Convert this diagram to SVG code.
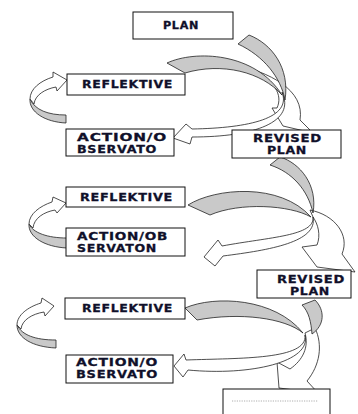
<svg xmlns="http://www.w3.org/2000/svg" width="358" height="414" viewBox="0 0 358 414">
<style>
.box{fill:#fff;stroke:#111;stroke-width:1}
.t{font-family:"DejaVu Sans","Liberation Sans",sans-serif;font-weight:bold;font-size:11px;fill:#10102a;stroke:#10102a;stroke-width:0.3;letter-spacing:0.6px}
.g{fill:#c9c9c9;stroke:#222;stroke-width:0.8;stroke-linejoin:round}
.w{fill:#fff;stroke:#222;stroke-width:0.8;stroke-linejoin:round}
</style>
<rect width="358" height="414" fill="#fff"/>
<g id="connectors">
  <!-- cycle 1 -->
  <path class="w" d="M232,64 C270,72 305,90 300,120 L313,133 L283,126 L272,108 L277,108 C283,95 275,80 250,70 Z"/>
  <path class="w" d="M282,92 C292,118 250,128 192,129 L186,124 L173,138 L190,144 L192,137 C255,137 296,122 282,92 Z"/>
  <path class="g" d="M167,63 C195,50 255,52 282,95 C262,72 222,62 185,73 Z"/>
  <path class="g" d="M238,44 L249,35 C272,44 290,68 285,100 C281,78 264,56 238,44 Z"/>
  <path class="g" d="M30,99 C29,112 45,122 66,123 L66,115 C48,115 35,110 30,99 Z"/>
  <path class="w" d="M34,104 C35,95 45,89 56,87 L57,91 L67,80 L53,72 L53,77 C40,81 30,89 30,99 Z"/>
  <!-- cycle 2 -->
  <path class="w" d="M310,210 C335,215 350,235 342,254 L355,272 L317,267 L302,247 L317,245 C321,235 318,224 313,217 Z"/>
  <path class="w" d="M313,217 C315,236 270,237 222,246 L218,240 L204,257 L215,266 L223,256 C270,250 318,242 313,217 Z"/>
  <path class="g" d="M188,205 C215,188 280,182 311,217 C290,205 240,202 210,215 Z"/>
  <path class="g" d="M270,165 L280,157 C300,163 318,185 313,213 C308,190 292,172 270,165 Z"/>
  <path class="g" d="M29,224 C28,237 45,247 67,248 L67,238 C48,238 33,233 29,224 Z"/>
  <path class="w" d="M33,228 C34,218 44,212 55,210 L57,213 L66,203 L53,197 L52,202 C40,206 29,214 29,224 Z"/>
  <!-- cycle 3 -->
  <path class="w" d="M315,328 C323,345 320,365 307,381 L318,393 L279,388 L277,362 L290,369 C303,360 309,347 305,333 Z"/>
  <path class="w" d="M305,335 C308,360 240,358 186,360 L184,354 L174,366 L183,377 L188,370 C250,376 312,362 305,335 Z"/>
  <path class="g" d="M185,308 C215,295 275,298 303,333 C285,318 240,312 197,320 Z"/>
  <path class="g" d="M302,305 L315,300 C325,310 325,325 312,334 C311,322 309,312 302,305 Z"/>
  <path class="g" d="M17,325 C17,338 33,347 56,348 L56,340 C35,340 22,335 17,325 Z"/>
  <path class="w" d="M21,329 C22,320 32,314 44,312 L45,316 L54,306 L42,298 L41,303 C28,307 17,315 17,325 Z"/>
</g>
<g id="plan"><rect class="box" x="133" y="12" width="100" height="27"/><text class="t" x="163" y="29" textLength="36" lengthAdjust="spacingAndGlyphs" style="font-size:10px">PLAN</text></g>
<g id="reflektive1"><rect class="box" x="67" y="74" width="118" height="21"/><text class="t" x="82" y="88" textLength="91" lengthAdjust="spacingAndGlyphs">REFLEKTIVE</text></g>
<g id="action1"><rect class="box" x="66" y="129" width="108" height="27"/><text class="t" x="77" y="141" textLength="90" lengthAdjust="spacingAndGlyphs">ACTION/O</text><text class="t" x="77" y="153" textLength="80" lengthAdjust="spacingAndGlyphs">BSERVATO</text></g>
<g id="revised1"><rect class="box" x="232" y="130" width="109" height="28"/><text class="t" x="253" y="142" textLength="69" lengthAdjust="spacingAndGlyphs">REVISED</text><text class="t" x="267" y="154" textLength="40" lengthAdjust="spacingAndGlyphs">PLAN</text></g>
<g id="reflektive2"><rect class="box" x="66" y="187" width="119" height="20"/><text class="t" x="80" y="201" textLength="93" lengthAdjust="spacingAndGlyphs">REFLEKTIVE</text></g>
<g id="action2"><rect class="box" x="66" y="228" width="119" height="28"/><text class="t" x="77" y="240" textLength="91" lengthAdjust="spacingAndGlyphs">ACTION/OB</text><text class="t" x="77" y="252" textLength="80" lengthAdjust="spacingAndGlyphs">SERVATON</text></g>
<g id="revised2"><rect class="box" x="257" y="270" width="94" height="28"/><text class="t" x="277" y="283" textLength="68" lengthAdjust="spacingAndGlyphs">REVISED</text><text class="t" x="290" y="295" textLength="40" lengthAdjust="spacingAndGlyphs">PLAN</text></g>
<g id="reflektive3"><rect class="box" x="65" y="298" width="120" height="21"/><text class="t" x="82" y="312" textLength="91" lengthAdjust="spacingAndGlyphs">REFLEKTIVE</text></g>
<g id="action3"><rect class="box" x="66" y="355" width="107" height="28"/><text class="t" x="76" y="366" textLength="82" lengthAdjust="spacingAndGlyphs">ACTION/O</text><text class="t" x="76" y="378" textLength="82" lengthAdjust="spacingAndGlyphs">BSERVATO</text></g>
<g id="blank"><rect class="box" x="223" y="389" width="107" height="30"/><line x1="232" y1="401" x2="318" y2="401" stroke="#999" stroke-width="0.8" stroke-dasharray="1.2 1.2"/></g>
</svg>
